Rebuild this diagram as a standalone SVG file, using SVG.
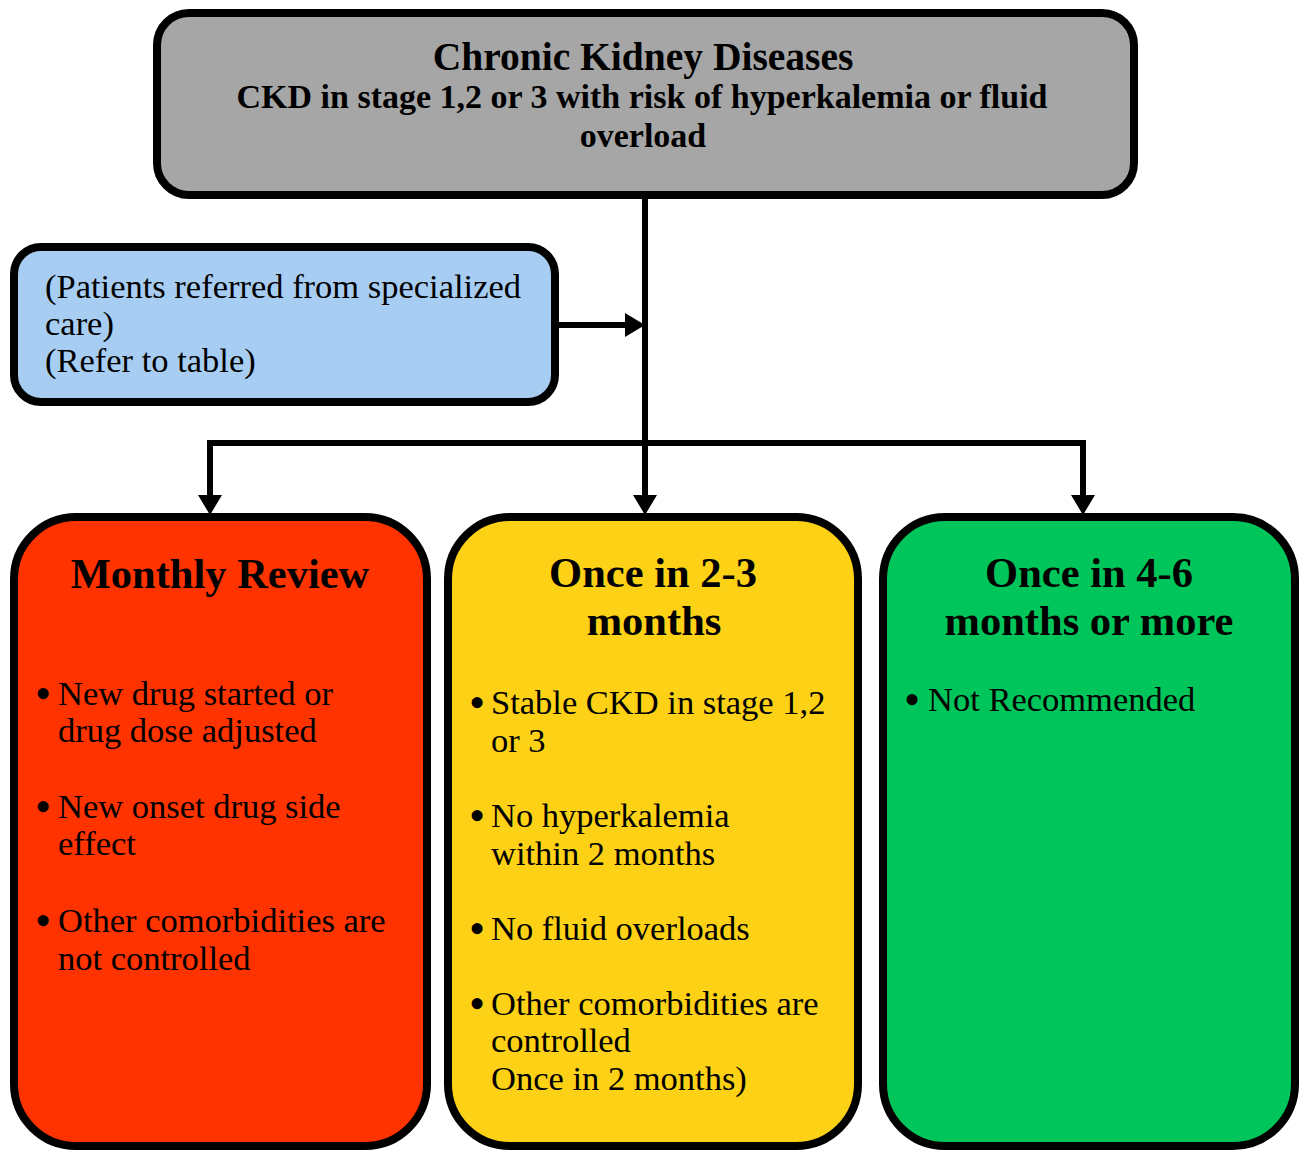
<svg xmlns="http://www.w3.org/2000/svg" width="1300" height="1152" viewBox="0 0 1300 1152">
<style>
.box{stroke:#000;stroke-width:8}
.t{font-family:"Liberation Serif","Times New Roman",serif;fill:#000}
.b{font-weight:bold}
.h{font-size:42.5px;font-weight:bold;text-anchor:middle}
.p{font-size:34.5px}
.bul{font-size:46px;text-anchor:middle}
.c{fill:none;stroke:#000;stroke-width:6;stroke-linejoin:miter}
</style>
<defs>
<marker id="ah" viewBox="0 0 20 24" refX="0" refY="12" markerWidth="20" markerHeight="24" markerUnits="userSpaceOnUse" orient="auto">
<path d="M0,0 L20,12 L0,24 z" fill="#000"/>
</marker>
</defs>
<rect width="1300" height="1152" fill="#fff"/>

<g id="connectors">
<path class="c" d="M645 199 V495" marker-end="url(#ah)"/>
<path class="c" d="M559 325 H625" marker-end="url(#ah)"/>
<path class="c" d="M645 443 H210 V495" marker-end="url(#ah)"/>
<path class="c" d="M645 443 H1083 V495" marker-end="url(#ah)"/>
</g>

<g id="node-ckd">
<rect class="box" x="157" y="13" width="977" height="182" rx="32" fill="#A6A6A6"/>
<text class="t b" x="643" y="70" font-size="39.5" text-anchor="middle">Chronic Kidney Diseases</text>
<text class="t b" x="642" y="108" font-size="34" text-anchor="middle">CKD in stage 1,2 or 3 with risk of hyperkalemia or fluid</text>
<text class="t b" x="643" y="147" font-size="34" text-anchor="middle">overload</text>
</g>

<g id="node-referred">
<rect class="box" x="14" y="247" width="541" height="155" rx="27" fill="#A8CDF3"/>
<text class="t p" x="45" y="298">(Patients referred from specialized</text>
<text class="t p" x="45" y="335">care)</text>
<text class="t p" x="45" y="372">(Refer to table)</text>
</g>

<g id="node-monthly">
<rect class="box" x="14" y="517" width="413" height="629" rx="62" fill="#FF3300"/>
<text class="t h" x="220" y="588">Monthly Review</text>
<text class="t bul" x="43" y="709">•</text>
<text class="t p" x="58" y="705">New drug started or</text>
<text class="t p" x="58" y="742">drug dose adjusted</text>
<text class="t bul" x="43" y="822">•</text>
<text class="t p" x="58" y="818">New onset drug side</text>
<text class="t p" x="58" y="855">effect</text>
<text class="t bul" x="43" y="936">•</text>
<text class="t p" x="58" y="932">Other comorbidities are</text>
<text class="t p" x="58" y="970">not controlled</text>
</g>

<g id="node-2-3">
<rect class="box" x="448" y="517" width="410" height="629" rx="62" fill="#FCD116"/>
<text class="t h" x="653" y="587">Once in 2-3</text>
<text class="t h" x="654" y="635">months</text>
<text class="t bul" x="477" y="718">•</text>
<text class="t p" x="491" y="714">Stable CKD in stage 1,2</text>
<text class="t p" x="491" y="752">or 3</text>
<text class="t bul" x="477" y="831">•</text>
<text class="t p" x="491" y="827">No hyperkalemia</text>
<text class="t p" x="491" y="865">within 2 months</text>
<text class="t bul" x="477" y="944">•</text>
<text class="t p" x="491" y="940">No fluid overloads</text>
<text class="t bul" x="477" y="1019">•</text>
<text class="t p" x="491" y="1015">Other comorbidities are</text>
<text class="t p" x="491" y="1052">controlled</text>
<text class="t p" x="491" y="1090">Once in 2 months)</text>
</g>

<g id="node-4-6">
<rect class="box" x="883" y="517" width="412" height="629" rx="62" fill="#00C55A"/>
<text class="t h" x="1089" y="587">Once in 4-6</text>
<text class="t h" x="1089" y="635">months or more</text>
<text class="t bul" x="912" y="715">•</text>
<text class="t p" x="928" y="711">Not Recommended</text>
</g>
</svg>
